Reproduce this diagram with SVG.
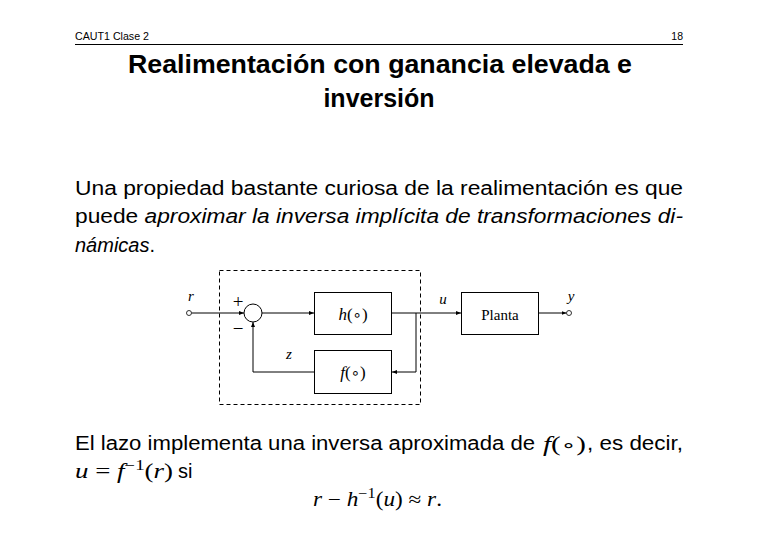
<svg xmlns="http://www.w3.org/2000/svg" width="758" height="536" viewBox="0 0 758 536">
<style>
.sans{font-family:"Liberation Sans",Arial,sans-serif;fill:#000}
.ser{font-family:"Liberation Serif","DejaVu Serif",serif;fill:#000}
.it{font-style:italic}
.ring{font-family:"DejaVu Sans",sans-serif;font-style:normal}
.ln{stroke:#000;stroke-width:1;fill:none}
.box{stroke:#000;stroke-width:1;fill:#fff}
</style>
<defs>
<marker id="ar" markerWidth="6" markerHeight="6" refX="5" refY="3" orient="auto" markerUnits="userSpaceOnUse">
<path d="M0,1 L5,3 L0,5 z" fill="#000"/>
</marker>
</defs>
<rect width="758" height="536" fill="#fff"/>
<g id="header">
<text class="sans" x="75" y="40" font-size="10.5" textLength="74" lengthAdjust="spacingAndGlyphs">CAUT1 Clase 2</text>
<text class="sans" x="683" y="40" font-size="10.5" text-anchor="end">18</text>
<line x1="75" y1="44.5" x2="683" y2="44.5" stroke="#000" stroke-width="1"/>
</g>
<g id="title">
<text class="sans" x="128" y="73" font-size="25" font-weight="bold" textLength="504" lengthAdjust="spacingAndGlyphs">Realimentación con ganancia elevada e</text>
<text class="sans" x="379" y="107" font-size="25" font-weight="bold" text-anchor="middle">inversión</text>
</g>
<g id="body">
<text class="sans" x="75" y="195" font-size="20" textLength="608" lengthAdjust="spacingAndGlyphs">Una propiedad bastante curiosa de la realimentación es que</text>
<text class="sans" x="75" y="223" font-size="20" textLength="608" lengthAdjust="spacingAndGlyphs">puede <tspan class="it">aproximar la inversa implícita de transformaciones di-</tspan></text>
<text class="sans" x="75" y="252" font-size="20"><tspan class="it">námicas</tspan>.</text>
</g>
<g id="frame">
<rect x="219.5" y="270.5" width="201" height="134" fill="none" stroke="#000" stroke-width="1" stroke-dasharray="4,3"/>
</g>
<g id="connectors">
<line class="ln" x1="191.5" y1="313" x2="244" y2="313" marker-end="url(#ar)"/>
<line class="ln" x1="262" y1="313" x2="314" y2="313" marker-end="url(#ar)"/>
<line class="ln" x1="392" y1="313" x2="461" y2="313" marker-end="url(#ar)"/>
<line class="ln" x1="538" y1="313" x2="566.5" y2="313" marker-end="url(#ar)"/>
<polyline class="ln" points="416,313 416,372 392,372" marker-end="url(#ar)"/>
<polyline class="ln" points="314,372 253,372 253,322" marker-end="url(#ar)"/>
</g>
<g id="input-r">
<circle cx="189" cy="313" r="2.5" fill="#fff" stroke="#000" stroke-width="0.8"/>
<text class="ser it" x="191" y="301" font-size="15" text-anchor="middle">r</text>
</g>
<g id="sum">
<circle cx="253" cy="313" r="9" fill="#fff" stroke="#000" stroke-width="1"/>
<text class="ser" x="238" y="308" font-size="19" text-anchor="middle">+</text>
<text class="ser" x="238" y="335" font-size="19" text-anchor="middle">−</text>
</g>
<g id="h-block">
<rect class="box" x="314.5" y="292.5" width="77" height="42"/>
<text class="ser" x="353" y="320" font-size="17" text-anchor="middle"><tspan class="it">h</tspan>(<tspan class="ring" font-size="15">∘</tspan>)</text>
</g>
<g id="f-block">
<rect class="box" x="314.5" y="350.5" width="77" height="43"/>
<text class="ser" x="353" y="378" font-size="17" text-anchor="middle"><tspan class="it">f</tspan>(<tspan class="ring" font-size="15">∘</tspan>)</text>
<text class="ser it" x="289" y="359" font-size="15" text-anchor="middle">z</text>
</g>
<g id="planta">
<rect class="box" x="461.5" y="292.5" width="77" height="42"/>
<text class="ser" x="500" y="320" font-size="15" text-anchor="middle">Planta</text>
<text class="ser it" x="443" y="304" font-size="15" text-anchor="middle">u</text>
</g>
<g id="output-y">
<circle cx="569" cy="313" r="2.5" fill="#fff" stroke="#000" stroke-width="0.8"/>
<text class="ser it" x="571" y="301" font-size="15" text-anchor="middle">y</text>
</g>
<g id="conclusion">
<text class="sans" x="75" y="450" font-size="20" textLength="460" lengthAdjust="spacingAndGlyphs">El lazo implementa una inversa aproximada de</text>
<text class="ser" x="543" y="451" font-size="20" textLength="43" lengthAdjust="spacingAndGlyphs"><tspan class="it">f</tspan>(<tspan class="ring" font-size="17">∘</tspan>)</text>
<text class="sans" x="587" y="450" font-size="20" textLength="96" lengthAdjust="spacingAndGlyphs">, es decir,</text>
<text class="ser" x="75" y="478" font-size="20" textLength="98" lengthAdjust="spacingAndGlyphs"><tspan class="it">u</tspan> = <tspan class="it">f</tspan><tspan font-size="14" dy="-8">−1</tspan><tspan dy="8">(</tspan><tspan class="it">r</tspan>)</text>
<text class="sans" x="178" y="478" font-size="20">si</text>
<text class="ser" x="313" y="506" font-size="20" textLength="129" lengthAdjust="spacingAndGlyphs"><tspan class="it">r</tspan> − <tspan class="it">h</tspan><tspan font-size="14" dy="-8">−1</tspan><tspan dy="8">(</tspan><tspan class="it">u</tspan>) ≈ <tspan class="it">r</tspan>.</text>
</g>
</svg>
